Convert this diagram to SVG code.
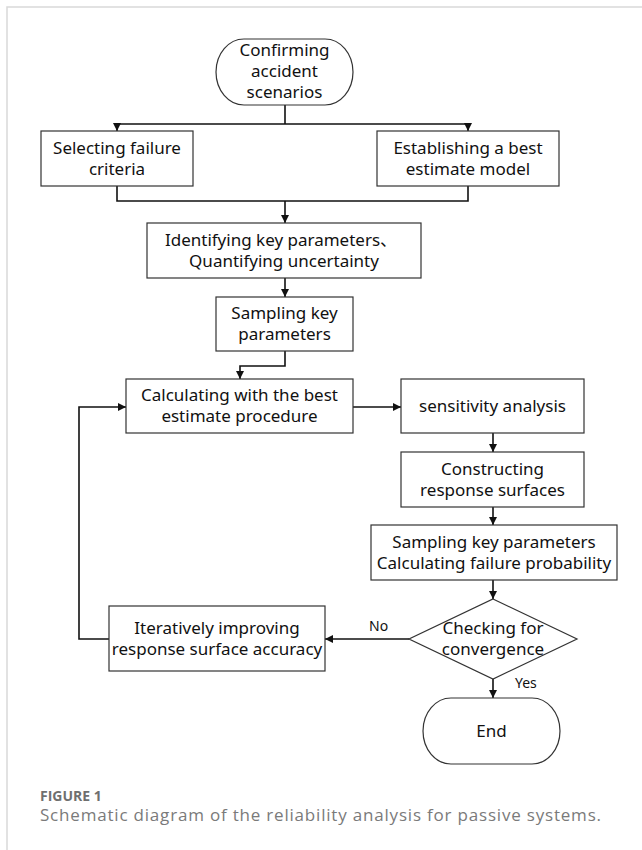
<svg xmlns="http://www.w3.org/2000/svg" width="642" height="850" viewBox="0 0 642 850">
<defs>
<style>
.frame{fill:none;stroke:#d9d9d9;stroke-width:1.5}
.box{fill:#fff;stroke:#333;stroke-width:1.2}
.con{fill:none;stroke:#111;stroke-width:1.6}
.t{font-family:"Noto Sans","Open Sans","Noto Sans CJK SC",sans-serif;font-size:17px;fill:#111;text-anchor:middle}
.lbl{font-family:"Noto Sans","Open Sans",sans-serif;font-size:14px;fill:#111}
.figno{font-family:"Open Sans","Noto Sans",sans-serif;font-size:14px;font-weight:bold;fill:#6f6f6f}
.cap{font-family:"Open Sans","Noto Sans",sans-serif;font-size:17px;fill:#7a7a7a}
</style>
<marker id="ah" viewBox="0 0 10 10" refX="10" refY="5" markerWidth="9" markerHeight="8" markerUnits="userSpaceOnUse" orient="auto">
<path d="M0,0 L10,5 L0,10 z" fill="#111"/>
</marker>
</defs>
<path class="frame" d="M7,850 V7 H642"/>
<g id="connectors">
<path class="con" d="M285,105 V124 M117,124 H468"/>
<path class="con" d="M117,124 V131" marker-end="url(#ah)"/>
<path class="con" d="M468,124 V131" marker-end="url(#ah)"/>
<path class="con" d="M117,186 V201 H468 V186"/>
<path class="con" d="M285,201 V223" marker-end="url(#ah)"/>
<path class="con" d="M285,278 V297" marker-end="url(#ah)"/>
<path class="con" d="M285,351 V366 H240 V379" marker-end="url(#ah)"/>
<path class="con" d="M353,407 H401" marker-end="url(#ah)"/>
<path class="con" d="M493,433 V452" marker-end="url(#ah)"/>
<path class="con" d="M493,507 V525" marker-end="url(#ah)"/>
<path class="con" d="M493,580 V599" marker-end="url(#ah)"/>
<path class="con" d="M409,639 H325" marker-end="url(#ah)"/>
<path class="con" d="M109,639 H79 V407 H126" marker-end="url(#ah)"/>
<path class="con" d="M493,679 V698" marker-end="url(#ah)"/>
<text class="lbl" x="369" y="631">No</text>
<text class="lbl" x="515" y="688">Yes</text>
</g>
<g id="start">
<rect class="box" x="216" y="39" width="137" height="66" rx="28" ry="33"/>
<text class="t" x="284.5" y="56">Confirming</text>
<text class="t" x="284.5" y="77">accident</text>
<text class="t" x="284.5" y="98">scenarios</text>
</g>
<g id="failure-criteria">
<rect class="box" x="41" y="131" width="152" height="55"/>
<text class="t" x="117" y="153.5">Selecting failure</text>
<text class="t" x="117" y="174.5">criteria</text>
</g>
<g id="best-estimate-model">
<rect class="box" x="377" y="131" width="182" height="55"/>
<text class="t" x="468" y="153.5">Establishing a best</text>
<text class="t" x="468" y="174.5">estimate model</text>
</g>
<g id="identify">
<rect class="box" x="147" y="223" width="274" height="55"/>
<text class="t" x="281" y="245.5">Identifying key parameters、</text>
<text class="t" x="284" y="266.5">Quantifying uncertainty</text>
</g>
<g id="sampling1">
<rect class="box" x="216" y="297" width="137" height="54"/>
<text class="t" x="284.5" y="319">Sampling key</text>
<text class="t" x="284.5" y="340">parameters</text>
</g>
<g id="calculating">
<rect class="box" x="126" y="379" width="227" height="54"/>
<text class="t" x="239.5" y="401">Calculating with the best</text>
<text class="t" x="239.5" y="422">estimate procedure</text>
</g>
<g id="sensitivity">
<rect class="box" x="401" y="379" width="183" height="54"/>
<text class="t" x="492.5" y="412">sensitivity analysis</text>
</g>
<g id="constructing">
<rect class="box" x="401" y="452" width="183" height="55"/>
<text class="t" x="492.5" y="474.5">Constructing</text>
<text class="t" x="492.5" y="495.5">response surfaces</text>
</g>
<g id="sampling2">
<rect class="box" x="371" y="525" width="246" height="55"/>
<text class="t" x="494" y="547.5">Sampling key parameters</text>
<text class="t" x="494" y="568.5">Calculating failure probability</text>
</g>
<g id="convergence">
<path class="box" d="M493,599 L577,639 L493,679 L409,639 Z"/>
<text class="t" x="493" y="634">Checking for</text>
<text class="t" x="493" y="655">convergence</text>
</g>
<g id="iterative">
<rect class="box" x="109" y="606" width="216" height="65"/>
<text class="t" x="217" y="633.5">Iteratively improving</text>
<text class="t" x="217" y="654.5">response surface accuracy</text>
</g>
<g id="end">
<rect class="box" x="423" y="698" width="137" height="66" rx="28" ry="33"/>
<text class="t" x="491.5" y="737">End</text>
</g>
<g id="caption">
<text class="figno" x="40" y="801">FIGURE 1</text>
<text class="cap" x="40" y="821" textLength="561" lengthAdjust="spacing">Schematic diagram of the reliability analysis for passive systems.</text>
</g>
</svg>
